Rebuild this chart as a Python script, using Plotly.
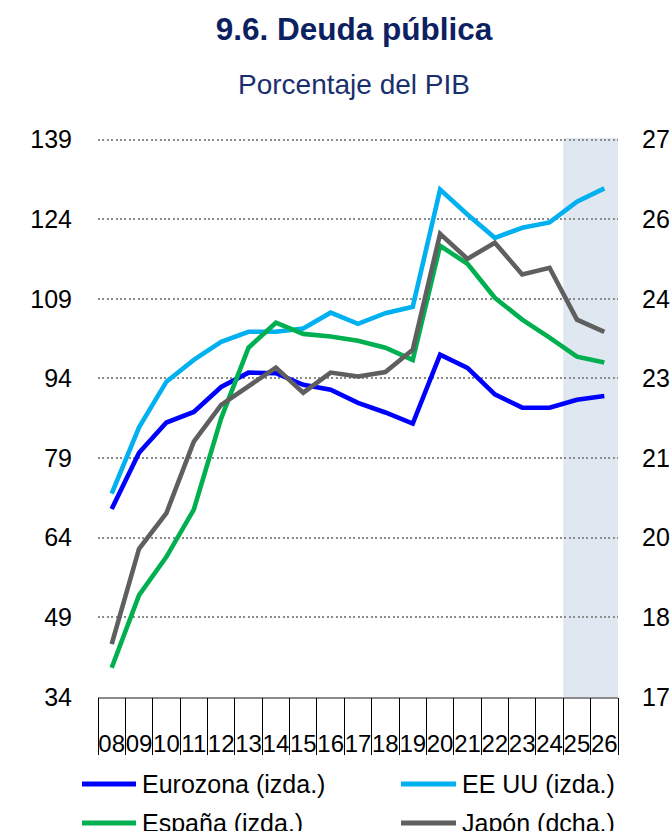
import plotly.graph_objects as go

# Years (two-digit labels) and public debt series, % of GDP
years = ["08", "09", "10", "11", "12", "13", "14", "15", "16", "17",
         "18", "19", "20", "21", "22", "23", "24", "25", "26"]

eurozona = [69.4, 80.0, 85.7, 87.7, 92.4, 95.1, 95.0, 92.8, 91.9, 89.4,
            87.6, 85.5, 98.5, 96.0, 91.0, 88.5, 88.5, 90.0, 90.7]
ee_uu = [72.3, 84.8, 93.4, 97.5, 100.9, 102.8, 102.8, 103.4, 106.4, 104.3,
         106.3, 107.5, 129.6, 124.9, 120.5, 122.4, 123.4, 127.3, 129.8]
espana = [39.5, 53.2, 60.4, 69.3, 86.5, 99.8, 104.5, 102.4, 101.9, 101.1,
          99.8, 97.5, 119.0, 115.6, 109.2, 105.1, 101.7, 98.1, 97.0]
# Japan is read on the right-hand scale
japon = [17.95, 19.66, 20.30, 21.58, 22.24, 22.57, 22.91, 22.46, 22.82, 22.75,
         22.83, 23.23, 25.31, 24.86, 25.15, 24.58, 24.70, 23.77, 23.55]

left_ticks = [34, 49, 64, 79, 94, 109, 124, 139]
right_min, right_max = 17, 27
forecast_years = ["25", "26"]

series = [
    ("Eurozona (izda.)", eurozona, "#0000FF", "y"),
    ("EE UU (izda.)", ee_uu, "#00B0F0", "y"),
    ("España (izda.)", espana, "#00B050", "y"),
    ("Japón (dcha.)", japon, "#5F5F5F", "y2"),
]

FONT = "Liberation Sans, Arial, sans-serif"
xpos = list(range(len(years)))
bounds = [i - 0.5 for i in range(len(years) + 1)]

fig = go.Figure()
for name, vals, color, yax in series:
    fig.add_trace(go.Scatter(
        x=xpos, y=vals, name=name, mode="lines", yaxis=yax,
        line=dict(color=color, width=4.6), showlegend=False,
    ))

# helper trace so the separator axis is drawn
fig.add_trace(go.Scatter(x=[bounds[0], bounds[-1]], y=[None, None], xaxis="x2",
                         mode="lines", showlegend=False, hoverinfo="skip"))

# forecast shading
f0 = years.index(forecast_years[0]) - 0.5
f1 = years.index(forecast_years[-1]) + 0.5
fig.add_vrect(x0=f0, x1=f1, y0=0, y1=1, fillcolor="#DFE7F1", line_width=0,
              layer="below")

n_right = len(left_ticks)
right_vals = [right_min + k * (right_max - right_min) / (n_right - 1) for k in range(n_right)]
# small headroom so the top gridline is kept inside the plot area
pad_l = 0.3
pad_r = pad_l * (right_max - right_min) / (left_ticks[-1] - left_ticks[0])

fig.update_layout(
    width=671, height=831,
    margin=dict(l=98, r=53, t=138, b=134, autoexpand=False),
    paper_bgcolor="white", plot_bgcolor="white",
    font=dict(family=FONT, color="black"),
    title=dict(text="<b>9.6. Deuda pública</b>", x=354 / 671, xanchor="center",
               y=1 - 29 / 831, yanchor="middle",
               font=dict(size=31.5, color="#0B2160", family=FONT)),
    xaxis=dict(range=[bounds[0], bounds[-1]], tickmode="array", tickvals=xpos,
               ticktext=years, tickangle=0, ticks="outside", ticklen=24,
               tickcolor="rgba(0,0,0,0)", showline=True, linecolor="#8C8C8C",
               linewidth=2, showgrid=False, zeroline=False, automargin=False,
               tickfont=dict(size=24, family=FONT, color="black")),
    xaxis2=dict(overlaying="x", anchor="y", side="bottom",
                range=[bounds[0], bounds[-1]], tickmode="array", tickvals=bounds,
                ticks="outside", ticklen=57, tickcolor="black", tickwidth=1,
                showticklabels=False, showgrid=False, zeroline=False,
                showline=False, automargin=False),
    yaxis=dict(range=[left_ticks[0], left_ticks[-1] + pad_l],
               tickmode="array", tickvals=left_ticks, ticks="outside", ticklen=20,
               tickcolor="rgba(0,0,0,0)", showgrid=True, gridcolor="#8C8C8C",
               gridwidth=2, griddash="2px,2.4px", zeroline=False, showline=False,
               automargin=False,
               tickfont=dict(size=25, family=FONT, color="black")),
    yaxis2=dict(overlaying="y", side="right",
                range=[right_min, right_max + pad_r],
                tickmode="array", tickvals=right_vals,
                ticktext=[f"{v:.0f}" for v in right_vals], ticks="outside",
                ticklen=18, tickcolor="rgba(0,0,0,0)", showgrid=False,
                zeroline=False, showline=False, automargin=False,
                tickfont=dict(size=25, family=FONT, color="black")),
)

fig.add_annotation(text="Porcentaje del PIB", xref="paper", yref="paper",
                   x=(354 - 98) / 520, y=(697 - 84) / 559, xanchor="center",
                   yanchor="middle", showarrow=False,
                   font=dict(size=28, color="#1A2F6E", family=FONT))

# legend: two columns, drawn as line samples + labels
legend_cols = [(82, 136), (401, 456)]
legend_rows = [784, 823]
for i, (name, vals, color, yax) in enumerate(series):
    c0, c1 = legend_cols[i % 2]
    ry = legend_rows[i // 2]
    yp = (697 - ry) / 559
    fig.add_shape(type="line", xref="paper", yref="paper",
                  x0=(c0 - 98) / 520, x1=(c1 - 98) / 520, y0=yp, y1=yp,
                  line=dict(color=color, width=5))
    fig.add_annotation(text=name, xref="paper", yref="paper",
                       x=(c1 + 4 - 98) / 520, y=yp, xanchor="left",
                       yanchor="middle", showarrow=False,
                       font=dict(size=25, color="black", family=FONT))

fig.write_html("out.html")
